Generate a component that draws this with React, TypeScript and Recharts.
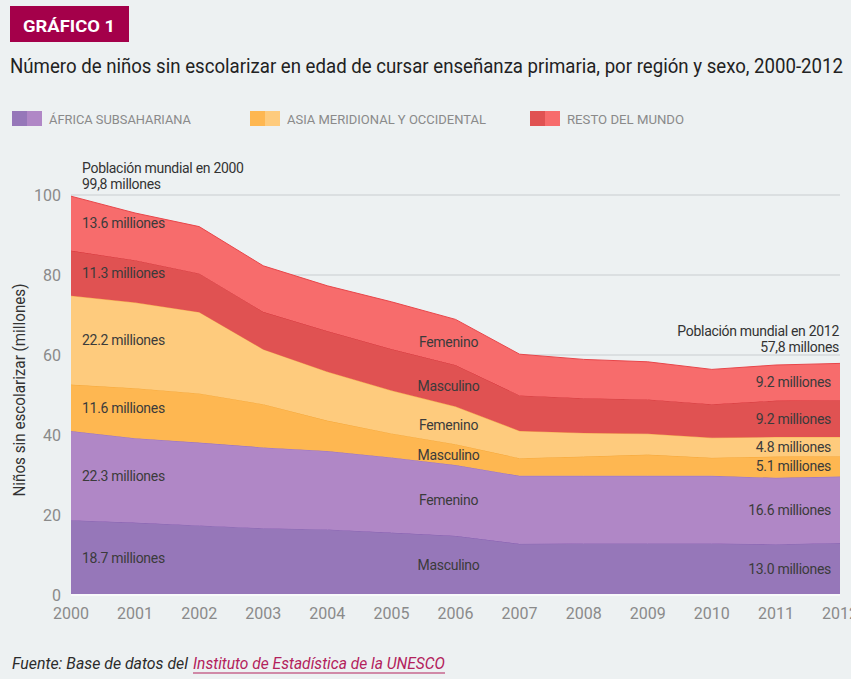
import React from 'react';
import { AreaChart, Area, XAxis, YAxis, CartesianGrid, ReferenceDot } from 'recharts';

const years = [2000, 2001, 2002, 2003, 2004, 2005, 2006, 2007, 2008, 2009, 2010, 2011, 2012];
const africaMasculino = [18.7, 18.1, 17.4, 16.7, 16.4, 15.6, 14.8, 12.8, 12.9, 12.9, 12.9, 12.7, 13.0];
const africaFemenino = [22.3, 21.1, 20.7, 20.2, 19.6, 18.8, 17.7, 17.0, 16.9, 16.9, 16.9, 16.6, 16.6];
const asiaMasculino = [11.6, 12.5, 12.3, 10.8, 7.6, 6.0, 5.2, 4.4, 4.8, 5.3, 4.5, 5.3, 5.1];
const asiaFemenino = [22.2, 21.4, 20.3, 13.7, 12.2, 10.7, 9.4, 6.8, 5.9, 5.2, 5.0, 4.9, 4.8];
const restoMasculino = [11.3, 10.6, 9.7, 9.4, 10.2, 10.4, 10.4, 8.9, 8.7, 8.6, 8.4, 9.1, 9.2];
const restoFemenino = [13.6, 11.8, 11.7, 11.5, 11.3, 11.8, 11.4, 10.3, 9.7, 9.4, 8.7, 8.9, 9.2];

const yTicks = [0, 20, 40, 60, 80, 100];
const regionNames = ['ÁFRICA SUBSAHARIANA', 'ASIA MERIDIONAL Y OCCIDENTAL', 'RESTO DEL MUNDO'];
const sexNames = ['Masculino', 'Femenino'];
const worldTotalStart = '99,8';
const worldTotalEnd = '57,8';

const seriesKeys = ['am', 'af', 'sm', 'sf', 'rm', 'rf'];
const seriesValues = [africaMasculino, africaFemenino, asiaMasculino, asiaFemenino, restoMasculino, restoFemenino];

const FILLS = ['#9677b9', '#b087c6', '#feb751', '#fecb7d', '#e05252', '#f76c6c'];
const STROKES = ['#8a62b3', '#9a72bf', '#f7a93a', '#f9b552', '#d9363b', '#e8464a'];
const FONT = 'Roboto, sans-serif';
const BG = '#edf1f2';

const data = years.map((year, i) => {
  const row: any = { year };
  seriesKeys.forEach((k, s) => { row[k] = seriesValues[s][i]; });
  return row;
});

const midOf = (s: number, i: number) => {
  let base = 0;
  for (let k = 0; k < s; k++) base += seriesValues[k][i];
  return base + seriesValues[s][i] / 2;
};
const totalAt = (i: number) => seriesValues.reduce((a, arr) => a + arr[i], 0);

const TextLabel = (props: any) => {
  const { viewBox, lines, anchor, shift, offsets, size, color } = props;
  if (!viewBox) return null;
  const x = viewBox.x + shift;
  return (
    <g>
      {lines.map((t: string, k: number) => (
        <text key={k} x={x} y={viewBox.y + offsets[k]} textAnchor={anchor} dominantBaseline="central"
          fontFamily={FONT} fontSize={size} fill={color} letterSpacing={-0.3}>{t}</text>
      ))}
    </g>
  );
};

const YLabel = (props: any) => {
  const { viewBox } = props;
  if (!viewBox) return null;
  const cx = 19;
  const cy = viewBox.y + viewBox.height / 2 - 5;
  return (
    <text x={cx} y={cy} transform={`rotate(-90 ${cx} ${cy})`} textAnchor="middle" dominantBaseline="central"
      fontFamily={FONT} fontSize={17} fill="#333" textLength={213} lengthAdjust="spacingAndGlyphs">
      Niños sin escolarizar (millones)
    </text>
  );
};

const legendX = [12, 250, 530];
const legendTextLen = [142, 199, 117];

export default function App() {
  const lastIdx = years.length - 1;
  const midIdx = 6;
  const labelColor = '#3b3b3b';
  return (
    <div style={{ position: 'fixed', left: 0, top: 0, width: 851, height: 679, background: BG, overflow: 'hidden' }}>
      <svg width={851} height={679} style={{ position: 'absolute', left: 0, top: 0 }}>
        <rect x={10} y={6} width={119} height={36} fill="#a4004a" />
        <text x={23} y={26} dominantBaseline="central" fontFamily={FONT} fontWeight={700} fontSize={16} fill="#fff"
          textLength={92} lengthAdjust="spacingAndGlyphs">GRÁFICO 1</text>
        <text x={10} y={66} dominantBaseline="central" fontFamily={FONT} fontSize={20} fill="#222"
          textLength={833} lengthAdjust="spacingAndGlyphs">
          Número de niños sin escolarizar en edad de cursar enseñanza primaria, por región y sexo, 2000-2012
        </text>
        {regionNames.map((name, r) => (
          <g key={name}>
            <rect x={legendX[r]} y={111} width={15} height={15} fill={FILLS[r * 2]} />
            <rect x={legendX[r] + 15} y={111} width={15} height={15} fill={FILLS[r * 2 + 1]} />
            <text x={legendX[r] + 37} y={119} dominantBaseline="central" fontFamily={FONT} fontSize={13.5} fill="#8a8a8a"
              textLength={legendTextLen[r]} lengthAdjust="spacingAndGlyphs">{name}</text>
          </g>
        ))}
        <text x={12} y={663} dominantBaseline="central" fontFamily={FONT} fontStyle="italic" fontSize={16.5} fill="#2b2b2b"
          textLength={176} lengthAdjust="spacingAndGlyphs">Fuente: Base de datos del</text>
        <text x={193} y={663} dominantBaseline="central" fontFamily={FONT} fontStyle="italic" fontSize={16.5} fill="#b3225c"
          textLength={252} lengthAdjust="spacingAndGlyphs">Instituto de Estadística de la UNESCO</text>
        <line x1={193} x2={445} y1={673} y2={673} stroke="#b3225c" strokeWidth={1.2} />
      </svg>
      <div style={{ position: 'absolute', left: 0, top: 0 }}>
        <AreaChart width={851} height={679} data={data} margin={{ top: 195, right: 11, bottom: 54, left: 11 }}>
          <CartesianGrid vertical={false} stroke="#d5d9db" strokeWidth={1.5} />
          <XAxis type="number" dataKey="year" domain={[2000, 2012]} ticks={years} interval={0}
            axisLine={{ stroke: '#f8f9fa', strokeWidth: 2 }} tickLine={false} tickSize={6} tickMargin={7} height={30}
            tick={{ fill: '#8a8a8a', fontSize: 16, fontFamily: FONT }} />
          <YAxis type="number" domain={[0, 100]} ticks={yTicks} width={60} axisLine={false} tickLine={false}
            tickSize={4} tickMargin={6} tick={{ fill: '#8a8a8a', fontSize: 16, fontFamily: FONT }}
            label={<YLabel />} />
          {seriesKeys.map((k, s) => (
            <Area key={k} type="linear" dataKey={k} stackId="1" fill={FILLS[s]} fillOpacity={1}
              stroke={STROKES[s]} strokeWidth={1} isAnimationActive={false} />
          ))}
          {seriesKeys.map((k, s) => (
            <ReferenceDot key={`l-${k}`} x={years[0]} y={midOf(s, 0)} r={0} fill="none" stroke="none"
              label={<TextLabel lines={[`${seriesValues[s][0].toFixed(1)} milliones`]} anchor="start" shift={11}
                offsets={[0]} size={14} color={labelColor} />} />
          ))}
          {seriesKeys.map((k, s) => (
            <ReferenceDot key={`m-${k}`} x={years[midIdx]} y={midOf(s, midIdx)} r={0} fill="none" stroke="none"
              label={<TextLabel lines={[sexNames[s % 2]]} anchor="middle" shift={-7}
                offsets={[0]} size={14} color={labelColor} />} />
          ))}
          {seriesKeys.map((k, s) => (
            <ReferenceDot key={`r-${k}`} x={years[lastIdx]} y={midOf(s, lastIdx)} r={0} fill="none" stroke="none"
              label={<TextLabel lines={[`${seriesValues[s][lastIdx].toFixed(1)} milliones`]} anchor="end" shift={-9}
                offsets={[0]} size={14} color={labelColor} />} />
          ))}
          <ReferenceDot x={years[0]} y={totalAt(0)} r={0} fill="none" stroke="none"
            label={<TextLabel lines={['Población mundial en 2000', `${worldTotalStart} millones`]} anchor="start" shift={11}
              offsets={[-28, -12]} size={14} color="#333" />} />
          <ReferenceDot x={years[lastIdx]} y={totalAt(lastIdx)} r={0} fill="none" stroke="none"
            label={<TextLabel lines={['Población mundial en 2012', `${worldTotalEnd} millones`]} anchor="end" shift={-1}
              offsets={[-32, -16]} size={14} color="#333" />} />
        </AreaChart>
      </div>
    </div>
  );
}
